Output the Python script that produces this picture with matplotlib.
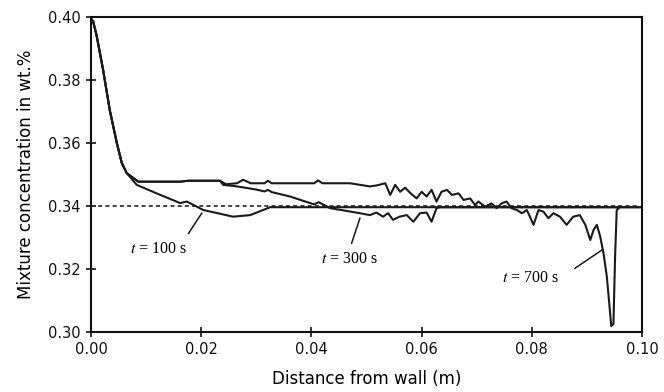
import matplotlib
matplotlib.use("Agg")
import matplotlib.pyplot as plt

# data
start_x = [0.0, 0.0004, 0.001, 0.0022, 0.0034, 0.0047, 0.0056, 0.0065]
start_y = [0.3995, 0.3985, 0.3943, 0.3832, 0.3705, 0.3599, 0.3536, 0.3504]

t100_x = start_x + [0.0083, 0.0119, 0.0162, 0.0174, 0.0204, 0.0258, 0.0289,
                    0.0325, 0.0996]
t100_y = start_y + [0.3467, 0.3440, 0.3409, 0.3414, 0.3387, 0.3366, 0.3371,
                    0.3396, 0.3396]

t300_x = start_x + [0.0086, 0.0162, 0.0176, 0.0234, 0.0240, 0.0265, 0.0283,
                    0.0300, 0.0315, 0.0321, 0.0328, 0.0361, 0.0405, 0.0413,
                    0.0434, 0.0488, 0.0506, 0.0518, 0.0530, 0.0539, 0.0548,
                    0.0560, 0.0573, 0.0585, 0.0597, 0.0609, 0.0618, 0.0627,
                    0.0633, 0.0996]
t300_y = start_y + [0.3477, 0.3477, 0.3480, 0.3480, 0.3467, 0.3462, 0.3457,
                    0.3452, 0.3446, 0.3451, 0.3444, 0.3430, 0.3405, 0.3412,
                    0.3393, 0.3377, 0.3371, 0.3379, 0.3366, 0.3377, 0.3356,
                    0.3366, 0.3371, 0.3350, 0.3377, 0.3379, 0.3350, 0.3393,
                    0.3396, 0.3396]

t700_x = start_x + [0.0086, 0.0162, 0.0176, 0.0234, 0.0245, 0.0265, 0.0276,
                    0.0290, 0.0315, 0.0321, 0.0328, 0.0405, 0.0412, 0.0420,
                    0.0470, 0.0488, 0.0506, 0.0518, 0.0534, 0.0543, 0.0552,
                    0.0561, 0.0570, 0.0580, 0.0591, 0.0600, 0.0609, 0.0618,
                    0.0627, 0.0636, 0.0646, 0.0655, 0.0667, 0.0676, 0.0688,
                    0.0697, 0.0703, 0.0715, 0.0727, 0.0736, 0.0745, 0.0754,
                    0.0763, 0.0773, 0.0782, 0.0791, 0.0803, 0.0812, 0.0821,
                    0.0830, 0.0839, 0.0851, 0.0863, 0.0875, 0.0887, 0.0897,
                    0.0906, 0.0912, 0.0918, 0.0924, 0.0930, 0.0936, 0.0941,
                    0.0944, 0.0948, 0.0951, 0.0954, 0.0959]
t700_y = start_y + [0.3477, 0.3477, 0.3480, 0.3480, 0.3469, 0.3472, 0.3483,
                    0.3472, 0.3472, 0.3480, 0.3472, 0.3472, 0.3481, 0.3472,
                    0.3472, 0.3467, 0.3462, 0.3465, 0.3472, 0.3435, 0.3467,
                    0.3445, 0.3458, 0.3440, 0.3424, 0.3445, 0.3430, 0.3451,
                    0.3414, 0.3445, 0.3451, 0.3435, 0.3440, 0.3419, 0.3424,
                    0.3403, 0.3414, 0.3398, 0.3408, 0.3393, 0.3408, 0.3414,
                    0.3393, 0.3387, 0.3377, 0.3387, 0.3340, 0.3387, 0.3382,
                    0.3361, 0.3377, 0.3366, 0.3340, 0.3366, 0.3371, 0.3340,
                    0.3292, 0.3324, 0.3340, 0.3303, 0.3250, 0.3176, 0.3080,
                    0.3019, 0.3025, 0.3239, 0.3387, 0.3396]

initial_conc = 0.34
dash_end = 0.0996

labels = ["t = 100 s", "t = 300 s", "t = 700 s"]
label_xy = [(0.0122, 0.3262), (0.0469, 0.3232), (0.0797, 0.3170)]
leader_from = [(0.0177, 0.3313), (0.0473, 0.3282), (0.0878, 0.3202)]
leader_to = [(0.0201, 0.3377), (0.0488, 0.3361), (0.0927, 0.3260)]

plt.rcParams["font.family"] = ["DejaVu Sans"]
plt.rcParams["mathtext.fontset"] = "stix"

fig = plt.figure(figsize=(6.64, 3.92), dpi=100)
ax = fig.add_subplot(111)
fig.subplots_adjust(left=0.137, right=0.967, bottom=0.153, top=0.957)

line_col = "#1a1a1a"
ax.plot([0, dash_end], [initial_conc, initial_conc], color="#333333",
        lw=1.3, ls=(0, (2.2, 1.8)))
for xs, ys in [(t100_x, t100_y), (t300_x, t300_y), (t700_x, t700_y)]:
    ax.plot(xs, ys, color=line_col, lw=1.5, solid_joinstyle="round")

# curve labels with short leader lines
for lab, (tx, ty), p0, p1 in zip(labels, label_xy, leader_from, leader_to):
    ax.plot([p0[0], p1[0]], [p0[1], p1[1]], color=line_col, lw=1.1)
    txt = r"$t$" + lab[1:]
    ax.text(tx, ty, txt, ha="center", va="center", fontsize=11.5,
            family=["Liberation Serif", "DejaVu Serif"])

ax.set_xlim(0, 0.10)
ax.set_ylim(0.30, 0.40)
ax.set_xticks([0.00, 0.02, 0.04, 0.06, 0.08, 0.10])
ax.set_yticks([0.30, 0.32, 0.34, 0.36, 0.38, 0.40])
ax.xaxis.set_major_formatter(matplotlib.ticker.FormatStrFormatter("%.2f"))
ax.yaxis.set_major_formatter(matplotlib.ticker.FormatStrFormatter("%.2f"))
ax.tick_params(direction="inout", length=7, width=1.2, labelsize=10.5,
               colors="#111111", pad=4)

for sp in ax.spines.values():
    sp.set_linewidth(1.5)
    sp.set_color("#111111")

ax.set_xlabel("Distance from wall (m)", fontsize=12, labelpad=9)
ax.set_ylabel("Mixture concentration in wt.%", fontsize=12, labelpad=9)

fig.savefig("out.png", dpi=100)
